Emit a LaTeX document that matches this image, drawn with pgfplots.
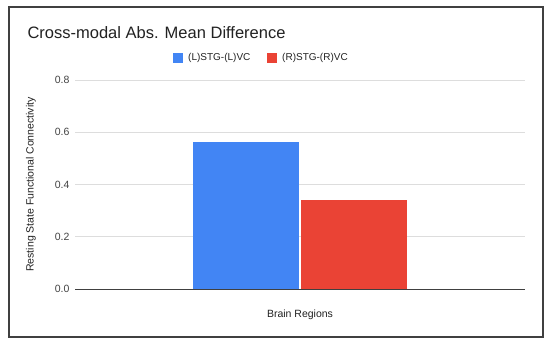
\documentclass[border=0pt]{standalone}
\usepackage{pgfplots}
\pgfplotsset{compat=1.18}
\usepackage{fontspec}
\setmainfont{Liberation Sans}
\definecolor{gblue}{HTML}{4285F4}
\definecolor{gred}{HTML}{EA4335}
\definecolor{gridc}{HTML}{DDDDDD}
\definecolor{txt}{HTML}{222222}
\definecolor{tick}{HTML}{444444}
\begin{document}
\begin{tikzpicture}
\path[fill=white] (0,0) rectangle (550bp,347bp);
\draw[line width=1.3bp, color=black!75] (9bp,10bp) rectangle (543bp,340bp);
\begin{axis}[
  scale only axis,
  width=450bp, height=209bp,
  at={(75bp,58bp)}, anchor=south west,
  ymin=0, ymax=0.8,
  xmin=-1, xmax=1,
  ytick={0,0.2,0.4,0.6,0.8},
  yticklabel style={/pgf/number format/fixed,/pgf/number format/fixed zerofill,/pgf/number format/precision=1, font=\fontsize{10.5bp}{12bp}\selectfont, color=tick, xshift=-2bp},
  /pgf/number format/assume math mode=true,
  xtick=\empty,
  ymajorgrids,
  grid style={gridc, line width=0.8bp},
  axis line style={draw=none},
  major tick length=0pt,
  ybar,
  bar width=106bp,
  ylabel={Resting State Functional Connectivity},
  ylabel style={font=\fontsize{10.5bp}{12bp}\selectfont, color=txt, at={(axis description cs:0,0.5)}, anchor=center, yshift=44bp},
  xlabel={Brain Regions},
  xlabel style={font=\fontsize{10.5bp}{12bp}\selectfont, color=txt, at={(axis description cs:0.5,0)}, anchor=center, yshift=-26bp},
  clip=false,
]
\addplot[fill=gblue, draw=none, bar shift=-54bp] coordinates {(0,0.563)};
\addplot[fill=gred, draw=none, bar shift=54bp] coordinates {(0,0.339)};
\draw[color=black!75, line width=0.9bp] (axis cs:-1,0) -- (axis cs:1,0);
\end{axis}
\node[anchor=west, font=\fontsize{16.5bp}{19bp}\selectfont, color=txt] at (24bp,314bp) {Cross-modal Abs. Mean Difference};
\fill[gblue] (173bp,284bp) rectangle (183bp,294bp);
\node[anchor=west, font=\fontsize{10bp}{12bp}\selectfont, color=txt, inner sep=0pt] at (188bp,289bp) {(L)STG-(L)VC};
\fill[gred] (267bp,284bp) rectangle (277bp,294bp);
\node[anchor=west, font=\fontsize{10bp}{12bp}\selectfont, color=txt, inner sep=0pt] at (282bp,289bp) {(R)STG-(R)VC};
\end{tikzpicture}
\end{document}
